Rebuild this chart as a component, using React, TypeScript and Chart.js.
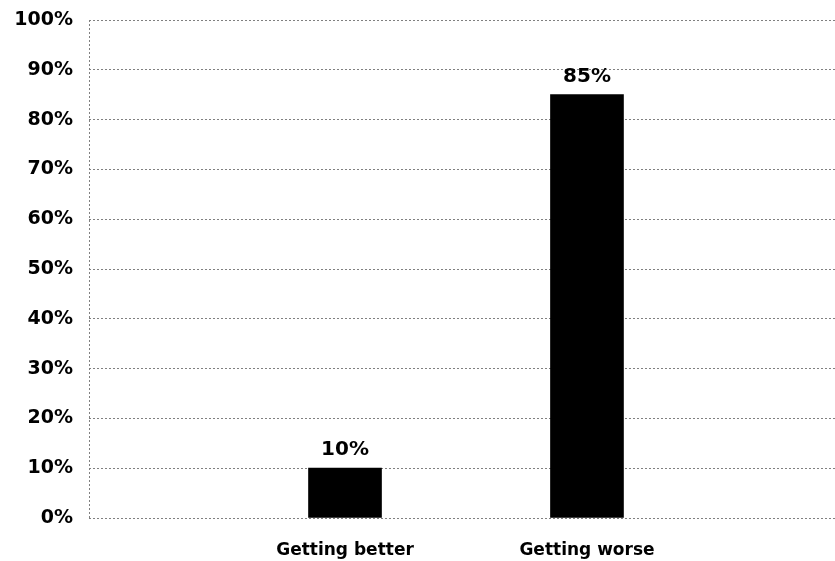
import React, { useEffect, useRef } from "react";
import { Chart, registerables } from "chart.js";

Chart.register(...registerables);

const categories = ["Getting better", "Getting worse"];
const values = [10, 85];
const yTicks = [0, 10, 20, 30, 40, 50, 60, 70, 80, 90, 100];

const FONT = "'DejaVu Sans', Verdana, sans-serif";
const GRID = "#808080";

const barLabelPlugin = {
  id: "barLabels",
  afterDatasetsDraw(chart: any) {
    const ctx = chart.ctx;
    const meta = chart.getDatasetMeta(0);
    ctx.save();
    ctx.font = `bold 20px ${FONT}`;
    ctx.fillStyle = "#000";
    ctx.textAlign = "center";
    ctx.textBaseline = "bottom";
    meta.data.forEach((el: any, i: number) => {
      ctx.fillText(values[i] + "%", el.x, el.y - 8);
    });
    ctx.restore();
  },
};

const leftAxisPlugin = {
  id: "leftAxis",
  beforeDatasetsDraw(chart: any) {
    const { ctx, chartArea } = chart;
    ctx.save();
    ctx.strokeStyle = GRID;
    ctx.lineWidth = 1;
    ctx.setLineDash([2, 2]);
    ctx.beginPath();
    const x = Math.round(chartArea.left) + 0.5;
    ctx.moveTo(x, chartArea.top);
    ctx.lineTo(x, chartArea.bottom);
    ctx.stroke();
    ctx.restore();
  },
};

export default function App() {
  const ref = useRef<HTMLCanvasElement>(null);
  useEffect(() => {
    document.body.style.margin = "0";
    const chart = new Chart(ref.current!, {
      type: "bar",
      data: {
        datasets: [
          {
            data: values.map((v, i) => ({ x: i + 1, y: v })),
            backgroundColor: "#000",
            borderWidth: 0,
            barThickness: 73,
          },
        ],
      },
      plugins: [leftAxisPlugin, barLabelPlugin],
      options: {
        responsive: false,
        animation: false,
        layout: { padding: { top: 20, right: 0, left: 0, bottom: 0 } },
        plugins: { legend: { display: false }, tooltip: { enabled: false } },
        scales: {
          x: {
            type: "linear",
            min: -0.058,
            max: 3.025,
            offset: false,
            afterFit(scale: any) {
              scale.height = 43;
              scale.paddingLeft = 0;
              scale.paddingRight = 0;
            },
            afterBuildTicks(scale: any) {
              scale.ticks = [{ value: 1 }, { value: 2 }];
            },
            ticks: {
              autoSkip: false,
              maxRotation: 0,
              padding: 22,
              color: "#000",
              font: { family: FONT, size: 17, weight: "bold" },
              callback: (v: any) => {
                const n = Number(v);
                return Number.isInteger(n) && categories[n - 1] ? categories[n - 1] : "";
              },
            },
            grid: { display: false, drawTicks: false },
            border: { display: false },
          },
          y: {
            min: 0,
            max: 100,
            afterFit(scale: any) {
              scale.width = 89;
              scale.paddingTop = 0;
              scale.paddingBottom = 0;
            },
            afterBuildTicks(scale: any) {
              scale.ticks = yTicks.map((v) => ({ value: v }));
            },
            ticks: {
              padding: 16,
              color: "#000",
              font: { family: FONT, size: 19, weight: "bold" },
              callback: (v: any) => v + "%",
            },
            grid: {
              drawTicks: false,
              color: GRID,
              lineWidth: 1,
            },
            border: { display: false, dash: [2, 2] },
          },
        },
      },
    } as any);
    return () => chart.destroy();
  }, []);
  return <canvas ref={ref} width={835} height={561} />;
}
